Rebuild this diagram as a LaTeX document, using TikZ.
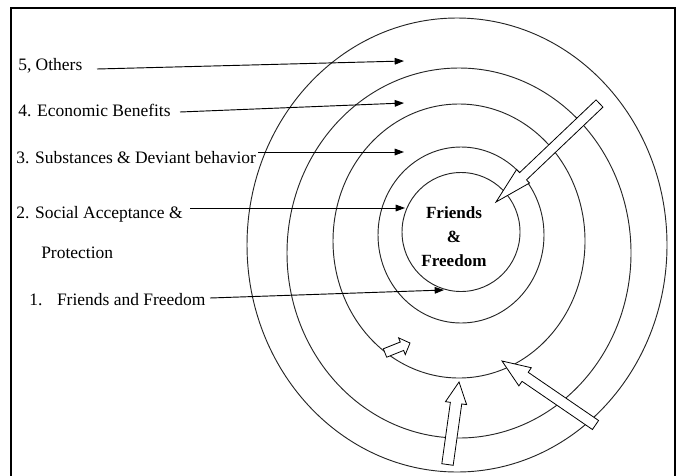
\documentclass[tikz,border=0pt]{standalone}
\usepackage{fontspec}
\setmainfont{Liberation Serif}
\usetikzlibrary{calc,arrows.meta}
\tikzset{
  ring/.style={line width=0.7pt, draw=black!85},
  lbl/.style={anchor=base west, inner sep=0pt, font=\fontsize{13.1}{15}\selectfont},
  thinarrow/.style={line width=0.7pt, -{Triangle[length=7pt,width=5pt]}},
  blockarrow/.style={line width=0.6pt, draw=black, fill=white, line join=miter},
}
\newcommand{\blockarr}[6]{%
  \coordinate (#1b) at ($(#3)!#6!(#2)$);
  \draw[blockarrow] ($(#2)!#4!90:(#3)$) -- ($(#1b)!#4!90:(#3)$) -- ($(#1b)!#5!90:(#3)$) -- (#3)
     -- ($(#1b)!#5!-90:(#3)$) -- ($(#1b)!#4!-90:(#3)$) -- ($(#2)!#4!-90:(#3)$) -- cycle;
}
\begin{document}
\begin{tikzpicture}[x=0.75pt,y=-0.75pt]
\useasboundingbox (0,0) rectangle (680,475);
\begin{scope}
  \clip (0,0) rectangle (680,475);
  \draw[line width=1pt] (11,8) rectangle (675,495);
\end{scope}

% rings
\draw[ring] (457,245) ellipse [x radius=210, y radius=227];
\draw[ring] (459,253) ellipse [x radius=172, y radius=185];
\draw[ring] (459,241) ellipse [x radius=126, y radius=137];
\draw[ring] (461,235) ellipse [x radius=83, y radius=88];
\draw[ring] (461,232) ellipse [x radius=59, y radius=59.5];

% centre text
\node[align=center, font=\fontsize{12.8}{18}\selectfont\bfseries, inner sep=0pt] (core) at (454,237)
  {Friends\\\&\\Freedom};

% labels
\node[lbl] (t5) at (18,70) {5, Others};
\node[lbl] (t4) at (18,116) {4. Economic Benefits};
\node[lbl] (t3) at (16,163) {3. Substances \& Deviant behavior};
\node[lbl] (t2) at (16,218) {2. Social Acceptance \&};
\node[lbl] (t2b) at (41,258) {Protection};
\node[lbl] (t1) at (29,305) {1.\hspace{11pt}Friends and Freedom};

% thin arrows
\coordinate (s5) at (97,69);  \coordinate (e5) at (404,61);
\coordinate (s4) at (180,112); \coordinate (e4) at (404,103);
\coordinate (s3) at (258,152); \coordinate (e3) at (404,152);
\coordinate (s2) at (190,208); \coordinate (e2) at (405,208);
\coordinate (s1) at (210,298); \coordinate (e1) at (444,290);
\draw[thinarrow] (s5) -- (e5);
\draw[thinarrow] (s4) -- (e4);
\draw[thinarrow] (s3) -- (e3);
\draw[thinarrow] (s2) -- (e2);
\draw[thinarrow] (s1) -- (e1);

% block arrows
\coordinate (Atail) at (599.5,103.5); \coordinate (Atip) at (496,202);
\coordinate (Btail) at (595.5,425);   \coordinate (Btip) at (502,361);
\coordinate (Ctail) at (447.5,464.5); \coordinate (Ctip) at (459,382);
\coordinate (Dtail) at (385,353);     \coordinate (Dtip) at (410,343);
\blockarr{A}{Atail}{Atip}{3.75pt}{7pt}{28pt}
\blockarr{B}{Btail}{Btip}{4.1pt}{8.25pt}{21pt}
\blockarr{C}{Ctail}{Ctip}{4.3pt}{8pt}{16pt}
\blockarr{D}{Dtail}{Dtip}{3.4pt}{6.75pt}{6.5pt}
\end{tikzpicture}
\end{document}
